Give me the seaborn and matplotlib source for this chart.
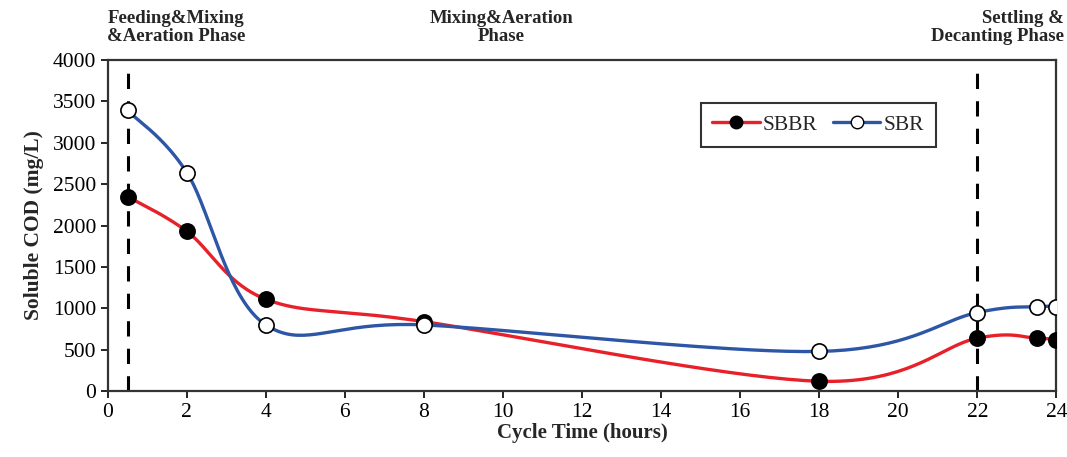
import numpy as np
import pandas as pd
import matplotlib
matplotlib.use("Agg")
import matplotlib.pyplot as plt
import seaborn as sns

# ---------------------------------------------------------------------------
# Data
# ---------------------------------------------------------------------------
cycle_hours = [0.5, 2, 4, 8, 18, 22, 23.5, 24]
sbbr_cod = [2350, 1930, 1110, 840, 120, 640, 640, 620]
sbr_cod = [3390, 2640, 800, 800, 480, 950, 1020, 1020]
phase_lines = [0.5, 22]

sns.set_theme(style="white")
plt.rcParams["font.family"] = ["Liberation Serif", "DejaVu Serif"]
plt.rcParams["font.weight"] = "bold"


def smooth(x, y, n=40):
    """Excel-like smoothed line: cubic Bezier with tension 1/6."""
    p = np.column_stack([x, y]).astype(float)
    p = np.vstack([p[0], p, p[-1]])
    out = []
    for i in range(1, len(p) - 2):
        p0, p1, p2, p3 = p[i - 1], p[i], p[i + 1], p[i + 2]
        c1 = p1 + (p2 - p0) / 6
        c2 = p2 - (p3 - p1) / 6
        t = np.linspace(0, 1, n)[:, None]
        seg = ((1 - t) ** 3 * p1 + 3 * (1 - t) ** 2 * t * c1
               + 3 * (1 - t) * t ** 2 * c2 + t ** 3 * p2)
        out.append(seg)
    out = np.vstack(out)
    return out[:, 0], out[:, 1]


fig = plt.figure(figsize=(10.67, 4.57), dpi=100)
ax = fig.add_axes([0.101, 0.144, 0.889, 0.725])

series = [("SBBR", sbbr_cod, "#e8202a", "black"),
          ("SBR", sbr_cod, "#2e56a6", "white")]

for name, vals, color, face in series:
    sx, sy = smooth(cycle_hours, vals)
    curve = pd.DataFrame({"t": sx, "cod": sy})
    sns.lineplot(data=curve, x="t", y="cod", ax=ax, color=color, lw=2.4,
                 sort=False, zorder=3)
    pts = pd.DataFrame({"t": cycle_hours, "cod": vals})
    sns.scatterplot(data=pts, x="t", y="cod", ax=ax, color=face,
                    edgecolor="black", linewidth=1.2, s=120, zorder=5)

for xv in phase_lines:
    ax.axvline(xv, ymin=0.0, ymax=0.965, color="black", lw=2.2,
               ls=(0, (5, 4)), zorder=2)

# legend proxies
handles = [plt.Line2D([], [], color=c, lw=2.4, marker="o", markersize=9,
                      markerfacecolor=f, markeredgecolor="black")
           for _, _, c, f in series]
leg = ax.legend(handles, [s[0] for s in series], ncol=2, loc="upper left",
                bbox_to_anchor=(0.625, 0.87), borderaxespad=0, frameon=True,
                fancybox=False, handlelength=2.2, columnspacing=0.7,
                borderpad=0.55, handletextpad=0.15,
                prop={"family": "Liberation Serif", "weight": "normal", "size": 15.5})
leg.get_frame().set_edgecolor("black")
leg.get_frame().set_linewidth(1.5)

ax.set_xlim(0, 24)
ax.set_ylim(0, 4000)
ax.set_xticks(np.arange(0, 25, 2))
ax.set_yticks(np.arange(0, 4001, 500))
ax.tick_params(axis="both", direction="out", length=5, width=1.2,
               labelsize=15.5, colors="black", bottom=True, left=True)
for lab in ax.get_xticklabels() + ax.get_yticklabels():
    lab.set_fontweight("normal")
for sp in ax.spines.values():
    sp.set_color("#333333")
    sp.set_linewidth(1.6)

ax.set_xlabel("Cycle Time (hours)", fontsize=15, fontweight="bold", labelpad=1)
ax.set_ylabel("Soluble COD (mg/L)", fontsize=15.5, fontweight="bold", labelpad=6)

fig.text(0.165, 0.978, "Feeding&Mixing\n&Aeration Phase", ha="center", va="top",
         fontsize=13.5, fontweight="bold", linespacing=1.05)
fig.text(0.47, 0.978, "Mixing&Aeration\nPhase", ha="center", va="top",
         fontsize=13.5, fontweight="bold", linespacing=1.05)
fig.text(0.997, 0.978, "Settling &\nDecanting Phase", ha="right", va="top",
         fontsize=13.5, fontweight="bold", linespacing=1.05, multialignment="right")

fig.savefig("out.png", dpi=100, facecolor="white")
